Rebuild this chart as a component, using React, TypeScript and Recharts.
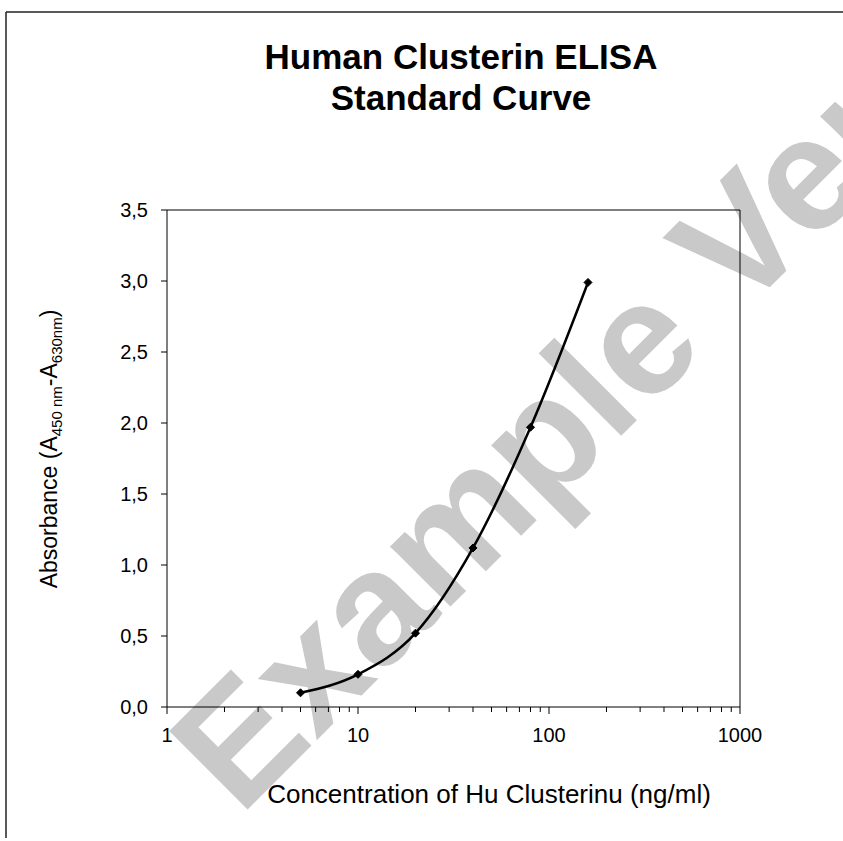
import { Line, LineChart, ReferenceLine, XAxis, YAxis } from "recharts";

const concentrations = [5, 10, 20, 40, 80, 160];
const absorbances = [0.1, 0.23, 0.52, 1.12, 1.97, 2.99];
const xMajorTicks = [1, 10, 100, 1000];
const xTicks = [
  1, 2, 3, 4, 5, 6, 7, 8, 9, 10, 20, 30, 40, 50, 60, 70, 80, 90, 100, 200, 300, 400, 500, 600, 700, 800, 900,
  1000,
];
const yTicks = [0, 0.5, 1, 1.5, 2, 2.5, 3, 3.5];

const FONT = "'Liberation Sans', Arial, sans-serif";

const data = concentrations.map((c, i) => ({ conc: c, abs: absorbances[i] }));

function LogTick({ x, y, payload }: any) {
  const v = payload.value;
  const major = xMajorTicks.includes(v);
  return (
    <g>
      <line x1={x} x2={x} y1={y} y2={y + (major ? 7 : 5)} stroke="#000" strokeWidth={1} />
      {major && (
        <text x={x} y={y + 35} textAnchor="middle" fontSize={20} fontFamily={FONT} fill="#000">
          {v}
        </text>
      )}
    </g>
  );
}

function Diamond({ cx, cy }: any) {
  if (cx == null || cy == null) return null;
  const r = 4;
  return (
    <polygon
      points={`${cx},${cy - r} ${cx + r},${cy} ${cx},${cy + r} ${cx - r},${cy}`}
      fill="#000"
      stroke="#000"
    />
  );
}

export default function App() {
  return (
    <div style={{ position: "fixed", left: 0, top: 0, width: 843, height: 841, background: "#fff" }}>
      <svg width={843} height={841} style={{ position: "absolute", left: 0, top: 0 }}>
        <text
          x={240}
          y={817}
          transform="rotate(-45 240 817)"
          fontSize={161}
          fontWeight="bold"
          fontFamily={FONT}
          fill="#c9c9c9"
        >
          Example Version
        </text>
        <line x1={6} y1={12} x2={843} y2={12} stroke="#222" strokeWidth={1.5} />
        <line x1={6} y1={12} x2={6} y2={838} stroke="#222" strokeWidth={1.5} />
        <text x={461} y={69} textAnchor="middle" fontSize={35} fontWeight="bold" fontFamily={FONT} fill="#000">
          Human Clusterin ELISA
        </text>
        <text x={461} y={110} textAnchor="middle" fontSize={35} fontWeight="bold" fontFamily={FONT} fill="#000">
          Standard Curve
        </text>
        <text x={489} y={803} textAnchor="middle" fontSize={26} fontFamily={FONT} fill="#000">
          Concentration of Hu Clusterinu (ng/ml)
        </text>
        <text
          x={57}
          y={449}
          transform="rotate(-90 57 449)"
          textAnchor="middle"
          fontSize={23}
          fontFamily={FONT}
          fill="#000"
        >
          Absorbance (A
          <tspan fontSize={15} dy={5}>
            450 nm
          </tspan>
          <tspan dy={-5}>-A</tspan>
          <tspan fontSize={15} dy={5}>
            630nm
          </tspan>
          <tspan dy={-5}>)</tspan>
        </text>
      </svg>
      <LineChart width={843} height={841} data={data} margin={{ top: 210, right: 103, bottom: 94, left: 107 }}>
        <XAxis
          dataKey="conc"
          type="number"
          scale="log"
          domain={[1, 1000]}
          ticks={xTicks}
          interval={0}
          allowDataOverflow
          height={40}
          tickLine={false}
          tickSize={0}
          tickMargin={0}
          tick={<LogTick />}
          axisLine={{ stroke: "#000", strokeWidth: 1 }}
        />
        <YAxis
          type="number"
          domain={[0, 3.5]}
          ticks={yTicks}
          interval={0}
          width={60}
          tickSize={6}
          tickMargin={13}
          tickFormatter={(v: number) => v.toFixed(1).replace(".", ",")}
          tick={{ fontSize: 20, fontFamily: FONT, fill: "#000" }}
          tickLine={{ stroke: "#000" }}
          axisLine={{ stroke: "#000", strokeWidth: 1 }}
        />
        <ReferenceLine y={3.5} stroke="#000" strokeWidth={1} />
        <ReferenceLine x={1000} stroke="#000" strokeWidth={1} />
        <Line
          type="monotone"
          dataKey="abs"
          stroke="#000"
          strokeWidth={2.5}
          dot={<Diamond />}
          activeDot={false}
          isAnimationActive={false}
        />
      </LineChart>
    </div>
  );
}
